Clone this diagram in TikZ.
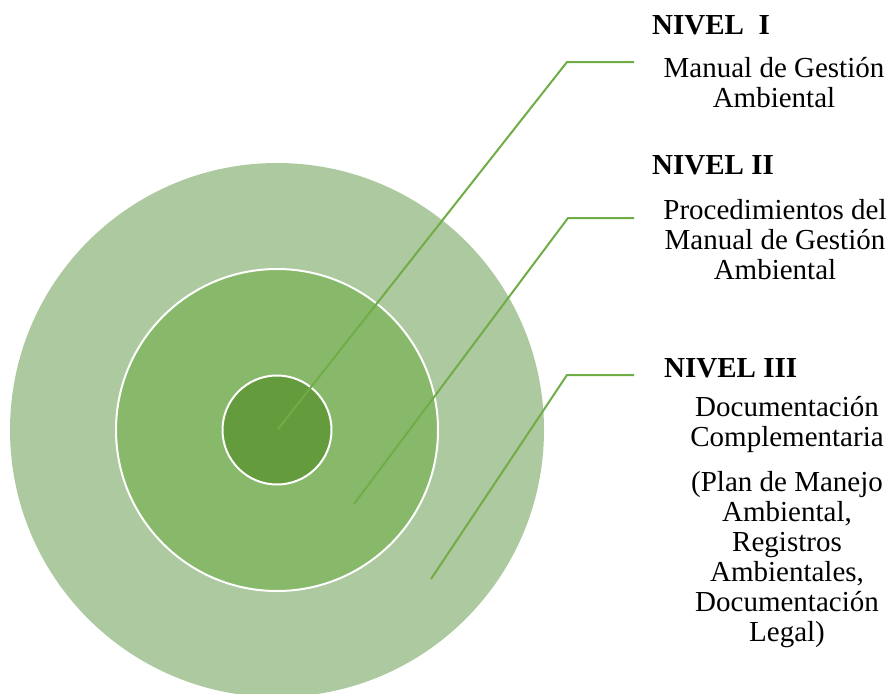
\documentclass[tikz,border=0pt]{standalone}
\usepackage{fontspec}
\setmainfont{Liberation Serif}
\definecolor{outerg}{HTML}{ADC99F}
\definecolor{midg}{HTML}{88B96B}
\definecolor{innerg}{HTML}{649B3D}
\definecolor{lineg}{HTML}{70AD47}
\begin{document}
\begin{tikzpicture}[x=1pt,y=-1pt,
  ring/.style={circle, draw=white, line width=2pt, inner sep=0pt},
  leader/.style={draw=lineg, line width=2pt},
  desc/.style={align=center, inner sep=0pt, font=\fontsize{29}{30}\selectfont},
  title/.style={anchor=west, inner sep=0pt, font=\fontsize{29}{30}\selectfont\bfseries}]
\useasboundingbox (0,0) rectangle (890,693);
\clip (0,0) rectangle (890,693);
\node[ring, fill=outerg, draw=none, minimum size=534pt] (outer) at (277,430) {};
\node[ring, fill=midg, minimum size=322pt] (mid) at (277,430) {};
\node[ring, fill=innerg, minimum size=109pt] (inner) at (277,430) {};
\coordinate (e1) at (278,429);
\coordinate (e2) at (354,504);
\coordinate (e3) at (431,579);
\coordinate (k1) at (567,62);
\coordinate (k2) at (568,218);
\coordinate (k3) at (567,375);
\coordinate (t1) at (634,62);
\coordinate (t2) at (634,218);
\coordinate (t3) at (634,375);
\draw[leader] (e1) -- (k1) -- (t1);
\draw[leader] (e2) -- (k2) -- (t2);
\draw[leader] (e3) -- (k3) -- (t3);
\node[title] (n1) at (652,25) {NIVEL\ \ I};
\node[desc] (d1) at (774,83) {Manual de Gestión\\Ambiental};
\node[title] (n2) at (652,165) {NIVEL II};
\node[desc] (d2) at (775,240) {Procedimientos del\\Manual de Gestión\\Ambiental};
\node[title] (n3) at (664,368) {NIVEL III};
\node[desc] (d3) at (787,522) {Documentación\\Complementaria\\[15pt](Plan de Manejo\\Ambiental,\\Registros\\Ambientales,\\Documentación\\Legal)};
\end{tikzpicture}
\end{document}
